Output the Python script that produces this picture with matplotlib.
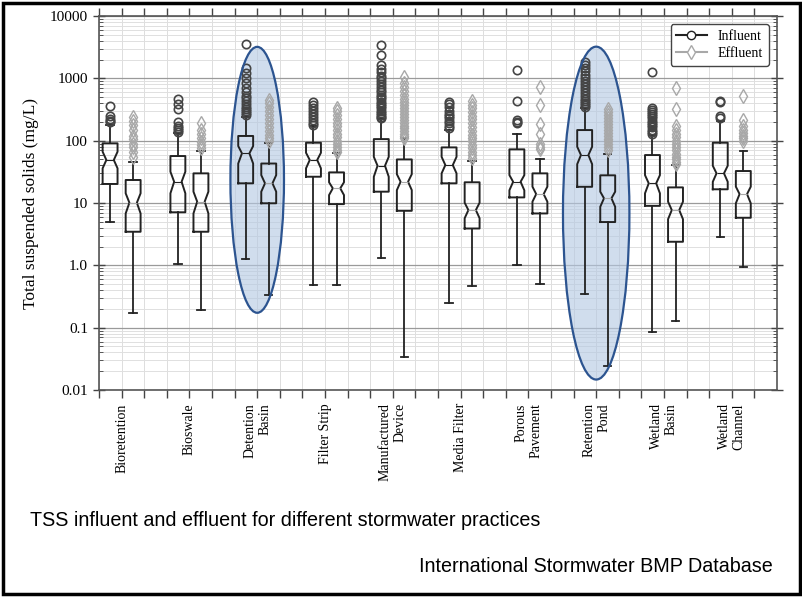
import matplotlib
matplotlib.use("Agg")
import matplotlib.pyplot as plt
import matplotlib.transforms as mtransforms
from matplotlib.lines import Line2D
from matplotlib.patches import Ellipse, Rectangle
import numpy as np

CATEGORIES = ["Bioretention", "Bioswale", "Detention\nBasin", "Filter Strip",
              "Manufactured\nDevice", "Media Filter", "Porous\nPavement",
              "Retention\nPond", "Wetland\nBasin", "Wetland\nChannel"]

# influent statistics (mg/L)
inf_q1 = [20.2, 7.1, 20.7, 26.4, 15.2, 20.7, 12.3, 18.2, 9.0, 16.6]
inf_med = [49, 21.9, 62.6, 49, 39.6, 40.6, 21.9, 58.8, 20.7, 29.9]
inf_q3 = [90.7, 56.7, 119, 92.7, 106, 78, 72.6, 148, 58.8, 92.7]
inf_lo = [4.9, 1.05, 1.25, 0.48, 1.3, 0.245, 1.0, 0.346, 0.084, 2.88]
inf_hi = [178, 131, 242, 172, 222, 148, 126, 330, 123, 209]
inf_cilo = [36, 14.3, 43, 36, 26.4, 29.9, 16, 42, 14.3, 21.9]
inf_cihi = [66.5, 31.8, 82, 64, 55, 55, 28, 80, 28, 39.6]
inf_fliers = [
    [360, 250, 220, 210, 200],
    [470, 390, 320, 200, 175, 160, 150, 140],
    [3500, 1450, 1200, 1000, 850, 700, 600, 530, 480, 430, 390, 350, 320, 300, 280, 260],
    [410, 380, 340, 300, 270, 240, 215, 195, 180],
    [3450, 2400, 1650, 1400, 1250, 1100, 1000, 900, 800, 720, 650, 600, 550, 500,
     460, 420, 390, 360, 330, 300, 280, 260, 240, 230],
    [420, 390, 350, 300, 270, 250, 230, 210, 190, 175, 160],
    [1350, 440, 215, 200, 190],
    [1850, 1650, 1450, 1300, 1150, 1000, 900, 800, 720, 650, 580, 520, 470, 430, 400, 370, 345],
    [1250, 330, 310, 290, 270, 250, 230, 210, 195, 180, 165, 150, 140, 130],
    [430, 420, 245, 230],
]

# effluent statistics (mg/L)
eff_q1 = [3.46, 3.46, 9.9, 9.6, 7.5, 3.9, 6.8, 4.95, 2.39, 5.8]
eff_med = [10.1, 10.5, 20.7, 17.2, 21.9, 7.7, 13.9, 11.9, 7.7, 13.9]
eff_q3 = [23.4, 29.9, 43, 31, 50, 21.5, 29.9, 27.8, 17.8, 32.6]
eff_lo = [0.17, 0.19, 0.33, 0.48, 0.034, 0.47, 0.51, 0.024, 0.13, 0.95]
eff_hi = [46, 69, 90.7, 62.6, 109, 47, 50, 60.4, 40.6, 68]
eff_cilo = [6.8, 6.8, 15.2, 13.4, 16.1, 5.7, 10.5, 8.7, 5.5, 9.9]
eff_cihi = [14.3, 15.2, 28, 21.5, 29, 10.1, 18.3, 15.2, 10.5, 18.3]
eff_fliers = [
    [240, 210, 180, 150, 120, 105, 90, 80, 65, 55],
    [195, 150, 130, 110, 95, 85, 75],
    [450, 400, 350, 300, 260, 220, 190, 165, 145, 125, 110, 100],
    [340, 300, 260, 225, 195, 170, 150, 130, 115, 100, 90, 80, 72, 66],
    [1050, 850, 720, 620, 540, 470, 420, 380, 340, 300, 270, 240, 215, 195, 175,
     160, 145, 130, 120, 112],
    [430, 380, 330, 290, 250, 220, 190, 165, 145, 125, 110, 97, 85, 75, 66, 58, 52],
    [730, 370, 185, 130, 90, 80, 73],
    [320, 290, 260, 230, 205, 185, 165, 150, 135, 120, 108, 97, 88, 80, 72],
    [690, 320, 170, 150, 130, 115, 100, 90, 80, 70, 62, 55, 50, 45, 42],
    [520, 215, 175, 150, 135, 120, 110, 100],
]

HIGHLIGHT = [2, 7]  # Detention Basin, Retention Pond

SERIF = ["Liberation Serif", "DejaVu Serif"]
INF_COL = "#222222"
EFF_COL = "#a8a8a8"


def _stats(q1, med, q3, lo, hi, cilo, cihi, fliers):
    return [dict(q1=a, med=b, q3=c, whislo=d, whishi=e, cilo=f, cihi=g, fliers=h)
            for a, b, c, d, e, f, g, h in zip(q1, med, q3, lo, hi, cilo, cihi, fliers)]


fig = plt.figure(figsize=(8.03, 5.97), dpi=100)
ax = fig.add_axes([0.1233, 0.3467, 0.8443, 0.6265])
ax.set_yscale("log")

pos = np.arange(len(CATEGORIES))
common = dict(widths=0.22, shownotches=True, patch_artist=False,
              boxprops=dict(color=INF_COL, lw=1.4),
              whiskerprops=dict(color=INF_COL, lw=1.3),
              capprops=dict(color=INF_COL, lw=1.3))
ax.bxp(_stats(inf_q1, inf_med, inf_q3, inf_lo, inf_hi, inf_cilo, inf_cihi, inf_fliers),
       positions=pos - 0.17, manage_ticks=False,
       medianprops=dict(color=INF_COL, lw=0.8),
       flierprops=dict(marker="o", markerfacecolor="none", markeredgecolor="#444444",
                       markersize=6, markeredgewidth=1.2),
       **common)
ax.bxp(_stats(eff_q1, eff_med, eff_q3, eff_lo, eff_hi, eff_cilo, eff_cihi, eff_fliers),
       positions=pos + 0.17, manage_ticks=False,
       medianprops=dict(color=EFF_COL, lw=0.8),
       flierprops=dict(marker="d", markerfacecolor="none", markeredgecolor=EFF_COL,
                       markersize=7, markeredgewidth=1.0),
       **common)

# highlight ellipses (x in data units, y in axes fraction)
trans = mtransforms.blended_transform_factory(ax.transData, ax.transAxes)
for k, (cy, w, h) in zip(HIGHLIGHT, [(0.562, 0.79, 0.711), (0.473, 0.98, 0.89)]):
    ax.add_patch(Ellipse((k, cy), w, h, transform=trans, facecolor="#b4c8e2",
                         alpha=0.62, edgecolor="none", zorder=1.5))
    ax.add_patch(Ellipse((k, cy), w, h, transform=trans, facecolor="none",
                         edgecolor="#2c5490", lw=1.6, zorder=6))

ax.set_xlim(-1 / 3, len(CATEGORIES) - 1 / 3)
ax.set_ylim(0.01, 10000)
ax.set_xticks(pos)
ax.set_xticklabels(CATEGORIES, rotation=90, fontsize=10, family=SERIF,
                   va="top", ha="center", multialignment="right")
ax.set_xticks(np.concatenate([pos - 1 / 3, pos + 1 / 3]), minor=True)
ax.set_yticks([0.01, 0.1, 1, 10, 100, 1000, 10000])
ax.set_yticklabels(["0.01", "0.1", "1.0", "10", "100", "1000", "10000"],
                   fontsize=11, family=SERIF)
ax.tick_params(axis="x", which="both", direction="out", length=6, width=1.0,
               top=True, colors="#444444", labelcolor="black")
ax.tick_params(axis="y", which="major", direction="inout", length=9, width=1.0,
               right=True, colors="#444444", labelcolor="black")
ax.tick_params(axis="y", which="minor", direction="in", length=3, width=0.7,
               right=True, colors="#555555")
ax.grid(True, which="major", axis="y", color="#9a9a9a", lw=0.9)
ax.grid(True, which="minor", axis="y", color="#e0e0e0", lw=0.7)
ax.grid(True, which="both", axis="x", color="#dddddd", lw=0.7)
ax.set_axisbelow(True)
for sp in ax.spines.values():
    sp.set_color("#555555")
    sp.set_linewidth(1.2)

ax.set_ylabel("Total suspended solids (mg/L)", fontsize=12.5, family=SERIF, labelpad=8)

handles = [
    Line2D([], [], color=INF_COL, lw=1.5, marker="o", markerfacecolor="white",
           markeredgecolor=INF_COL, markersize=6, label="Influent"),
    Line2D([], [], color=EFF_COL, lw=1.5, marker="d", markerfacecolor="white",
           markeredgecolor=EFF_COL, markersize=7, label="Effluent"),
]
ax.legend(handles=handles, loc="upper right", prop=dict(family=SERIF, size=10),
          framealpha=1, edgecolor="#444444", fancybox=True, borderaxespad=0.6,
          handlelength=2.2, labelspacing=0.3)

fig.text(30 / 803, 1 - 521 / 597, "TSS influent and effluent for different stormwater practices",
         fontsize=14.2, family="Liberation Sans", va="center", ha="left")
fig.text(773 / 803, 1 - 567 / 597, "International Stormwater BMP Database",
         fontsize=14.2, family="Liberation Sans", va="center", ha="right")

fig.patches.append(Rectangle((0.004, 0.005), 0.992, 0.99, transform=fig.transFigure,
                             fill=False, edgecolor="black", lw=2.5))

fig.savefig("out.png", dpi=100)
